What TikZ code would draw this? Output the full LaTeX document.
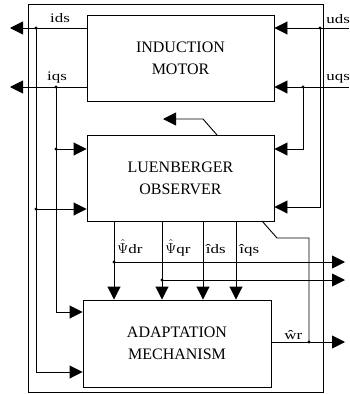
\documentclass[tikz,border=0pt]{standalone}
\usepackage{fontspec}
\setmainfont{Liberation Serif}
\newfontfamily\lblfont[FakeStretch=1.3]{Liberation Serif}
\usetikzlibrary{arrows.meta}
\tikzset{
  blk/.style={draw, line width=0.9pt, minimum width=187pt, minimum height=86pt, align=center,
    font=\fontsize{16}{22}\selectfont},
  lbl/.style={inner sep=0pt, font=\lblfont\fontsize{13}{15}\selectfont},
}
\newcommand\hatpsi{{\fontsize{14}{14}\selectfont$\hat{\Psi}$}}
\begin{document}
\begin{tikzpicture}[x=1pt,y=-1pt, line width=0.9pt, >={Triangle[length=13pt,width=13pt]}]
\useasboundingbox (0,0) rectangle (349,394);
% outer frame
\draw (28,4) rectangle (323,392);
% blocks
\node[blk] (motor) at (180.5,58) {INDUCTION\\MOTOR};
\node[blk] (obs) at (180.5,178) {LUENBERGER\\OBSERVER};
\node[blk, minimum width=188pt, minimum height=87pt] (adapt) at (177,343.5) {ADAPTATION\\MECHANISM};
% left outputs of motor
\coordinate (idsL) at (10,28);
\coordinate (idsJ) at (36,28);
\coordinate (iqsL) at (10,87);
\coordinate (iqsJ) at (56,87);
\draw[->] (motor.west |- idsJ) -- (idsL);
\draw[->] (motor.west |- iqsJ) -- (iqsL);
\fill (idsJ) circle (1.6pt);
\fill (iqsJ) circle (1.6pt);
\node[lbl, anchor=base] (lids) at (60,22) {ids};
\node[lbl, anchor=base] (liqs) at (57,80) {iqs};
% ids feed
\coordinate (idsB) at (36,372);
\coordinate (idsO) at (36,209);
\draw[->] (idsJ) -- (idsB) -- (adapt.west |- idsB);
\draw[->] (idsO) -- (obs.west |- idsO);
\fill (idsO) circle (1.6pt);
% iqs feed
\coordinate (iqsB) at (56,312);
\coordinate (iqsO) at (56,149);
\draw[->] (iqsJ) -- (iqsB) -- (adapt.west |- iqsB);
\draw[->] (iqsO) -- (obs.west |- iqsO);
\fill (iqsO) circle (1.6pt);
% uds input
\coordinate (udsR) at (349,28);
\coordinate (udsJ) at (320,28);
\coordinate (udsO) at (320,207);
\draw[->] (udsR) -- (motor.east |- udsR);
\draw[->] (udsJ) -- (udsO) -- (obs.east |- udsO);
\fill (udsJ) circle (1.6pt);
\node[lbl, anchor=base west] (luds) at (326,23) {uds};
% uqs input
\coordinate (uqsR) at (349,87);
\coordinate (uqsJ) at (303,87);
\coordinate (uqsO) at (303,149);
\draw[->] (uqsR) -- (motor.east |- uqsR);
\draw[->] (uqsJ) -- (uqsO) -- (obs.east |- uqsO);
\fill (uqsJ) circle (1.6pt);
\node[lbl, anchor=base west] (luqs) at (326,80) {uqs};
% observer top output
\coordinate (otS) at (217,135);
\coordinate (otA) at (203,119);
\coordinate (otB) at (163,119);
\draw[->] (otS) -- (otA) -- (otB);
% observer outputs to adaptation
\coordinate (pdr) at (114,262);
\coordinate (pqr) at (162,280);
\coordinate (eids) at (203,262);
\coordinate (eiqs) at (236,262);
\draw[->] (obs.south -| pdr) -- (adapt.north -| pdr);
\draw[->] (obs.south -| pqr) -- (adapt.north -| pqr);
\draw[->] (obs.south -| eids) -- (adapt.north -| eids);
\draw[->] (obs.south -| eiqs) -- (adapt.north -| eiqs);
\coordinate (pdrR) at (345,262);
\coordinate (pqrR) at (345,280);
\draw[->] (pdr) -- (pdrR);
\draw[->] (pqr) -- (pqrR);
\fill (pdr) circle (1.6pt);
\fill (pqr) circle (1.6pt);
\node[lbl, anchor=base west] (lpdr) at (117,253) {\hatpsi dr};
\node[lbl, anchor=base west] (lpqr) at (165,253) {\hatpsi qr};
\node[lbl, anchor=base west] (lids2) at (205.5,253) {îds};
\node[lbl, anchor=base west] (liqs2) at (239,253) {îqs};
% rotor speed output
\coordinate (wJ) at (309,342);
\coordinate (wR) at (345,342);
\coordinate (wU) at (309,238);
\coordinate (wK) at (277,238);
\coordinate (wS) at (262,221);
\draw[->] (adapt.east |- wJ) -- (wR);
\draw (wJ) -- (wU) -- (wK) -- (wS);
\fill (wJ) circle (1.6pt);
\node[lbl, anchor=base west] (lw) at (284,339) {ŵr};
\end{tikzpicture}
\end{document}
